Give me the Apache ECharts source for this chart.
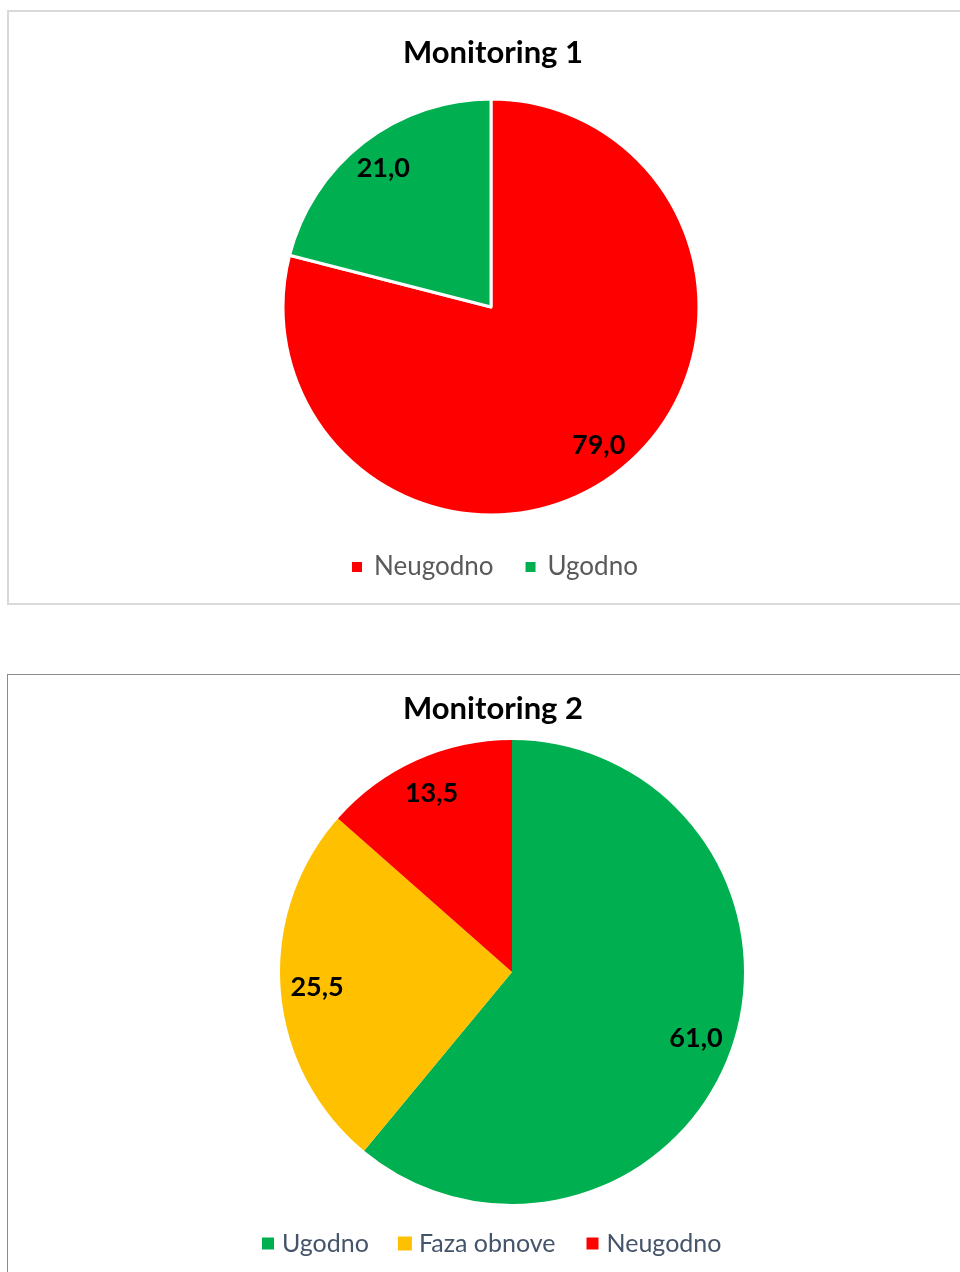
<!DOCTYPE html>
<html>
<head>
<meta charset="utf-8">
<script src="https://cdn.jsdelivr.net/npm/echarts@6/dist/echarts.min.js"></script>
<style>
  html, body { margin: 0; padding: 0; width: 960px; height: 1272px; overflow: hidden; background: #fff; }
  .box { position: absolute; left: 7px; width: 1100px; box-sizing: border-box; }
  #box1 { top: 10px; height: 595px; border: 2px solid #d9d9d9; }
  #box2 { top: 674px; height: 700px; border: 1.5px solid #8c8c8c; }
  #chart { position: absolute; left: 0; top: 0; width: 960px; height: 1272px; }
</style>
</head>
<body>
<div class="box" id="box1"></div>
<div class="box" id="box2"></div>
<div id="chart"></div>
<script>
// Monitoring 1
const names1 = ['Neugodno', 'Ugodno'];
const values1 = [79.0, 21.0];
const colors1 = ['#ff0000', '#00b050'];

// Monitoring 2
const names2 = ['Ugodno', 'Faza obnove', 'Neugodno'];
const values2 = [61.0, 25.5, 13.5];
const colors2 = ['#00b050', '#ffc000', '#ff0000'];

const fontFamily = 'Lato, "Open Sans", sans-serif';

function toData(names, values, colors) {
    return names.map((n, i) => ({ name: n, value: values[i], itemStyle: { color: colors[i] } }));
}

// transparent ring on top of each pie, only to place the value labels at ~83% of the radius (like Excel)
function labelRing(names, values, center, r) {
    return {
        type: 'pie',
        center: center,
        radius: [r * 0.66, r],
        startAngle: 90,
        clockwise: true,
        silent: true,
        data: names.map((n, i) => ({ name: n, value: values[i] })),
        itemStyle: { color: 'rgba(0,0,0,0)', borderWidth: 0 },
        label: {
            show: true,
            position: 'inside',
            color: '#000',
            fontFamily: fontFamily,
            fontWeight: 'bold',
            fontSize: 27,
            formatter: p => p.value.toFixed(1).replace('.', ',')
        },
        labelLine: { show: false },
        emphasis: { disabled: true }
    };
}

const chart = echarts.init(document.getElementById('chart'));
const option = {
    animation: false,
    title: [
        { text: 'Monitoring 1', left: 488, top: 32, textAlign: 'center',
          textStyle: { fontFamily: fontFamily, fontWeight: 'bold', fontSize: 31, color: '#000' } },
        { text: 'Monitoring 2', left: 488, top: 688, textAlign: 'center',
          textStyle: { fontFamily: fontFamily, fontWeight: 'bold', fontSize: 31, color: '#000' } }
    ],
    legend: [
        {
            data: names1,
            left: 345,
            top: 549,
            icon: 'rect',
            itemWidth: 12,
            itemHeight: 12,
            itemGap: 30,
            selectedMode: false,
            textStyle: { fontFamily: fontFamily, fontSize: 26, color: '#595959', padding: [0, 0, 0, 6] }
        },
        {
            data: names2,
            left: 255,
            top: 1226,
            icon: 'rect',
            itemWidth: 14,
            itemHeight: 14,
            itemGap: 29,
            selectedMode: false,
            textStyle: { fontFamily: fontFamily, fontSize: 25, color: '#44546a', padding: [0, 0, 0, 2] }
        }
    ],
    series: [
        {
            type: 'pie',
            center: [491, 307],
            radius: 208,
            startAngle: 90,
            clockwise: true,
            data: toData(names1, values1, colors1),
            itemStyle: { borderColor: '#fff', borderWidth: 3 },
            label: { show: false },
            labelLine: { show: false },
            emphasis: { disabled: true }
        },
        {
            type: 'pie',
            center: [512, 972],
            radius: 232,
            startAngle: 90,
            clockwise: true,
            data: toData(names2, values2, colors2),
            label: { show: false },
            labelLine: { show: false },
            emphasis: { disabled: true }
        },
        labelRing(names1, values1, [491, 307], 208),
        labelRing(names2, values2, [512, 972], 232)
    ]
};
chart.setOption(option);
window.addEventListener('resize', () => chart.resize());
</script>
</body>
</html>
